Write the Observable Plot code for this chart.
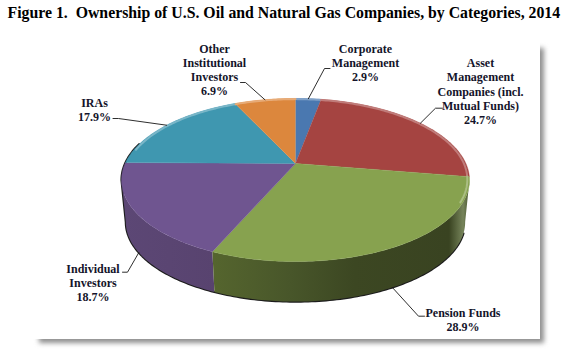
<!DOCTYPE html>
<html>
<head>
<meta charset="utf-8">
<script src="https://cdn.jsdelivr.net/npm/d3@7"></script>
<script src="https://cdn.jsdelivr.net/npm/@observablehq/plot@0.6"></script>
<style>html,body{margin:0;padding:0;background:#fff}svg{display:block}</style>
</head>
<body>
<div id="chart"></div>
<script>
// ---- data ----
const titleText = "Figure 1.  Ownership of U.S. Oil and Natural Gas Companies, by Categories, 2014";
const categories = ["Corporate Management", "Asset Management Companies (incl. Mutual Funds)", "Pension Funds", "Individual Investors", "IRAs", "Other Institutional Investors"];
const shares = [2.9, 24.7, 28.9, 18.7, 17.9, 6.9];
const labelLines = [
  ["Corporate", "Management", "2.9%"],
  ["Asset", "Management", "Companies (incl.", "Mutual Funds)", "24.7%"],
  ["Pension Funds", "28.9%"],
  ["Individual", "Investors", "18.7%"],
  ["IRAs", "17.9%"],
  ["Other", "Institutional", "Investors", "6.9%"]
];
// ---- style ----
const topColors = ["#4a78b0", "#a54441", "#87a24f", "#6f5590", "#3f97b0", "#dc873d"];
// ---- layout: pie view (a perspective view of a disc), label centres and leader bends ----
const view = {cx: 295, cy: 163, A: 170.4, B: 78.2, k: 0.2025, depth: 42.5, shrink: 0.975};
const labelCentres = [[365, 62], [480, 90.5], [462.5, 319], [92.5, 282], [94, 109], [214, 69]];
const leaderBends = [[[324, 68], [329.5, 68]], [[435, 107.7], [442, 107.7]], [[418, 315.7], [424, 315.7]], [[127, 271.7], [122, 271.7]], [[118, 118], [112.5, 118]], [[245, 82], [240, 82]]];

const TAU = Math.PI * 2, DEG = Math.PI / 180;
function project(a, face = "top", r = 1) {
  const u = r * Math.sin(a), v = r * Math.cos(a), d = 1 + view.k * v;
  const X = view.A * u / d, Y = view.B * v / d;
  return face === "top"
    ? {x: view.cx + X, y: view.cy - Y}
    : {x: view.cx + view.shrink * X, y: view.cy + view.depth - view.shrink * Y};
}
function arc(a0, a1, face, r) {
  const n = Math.max(2, Math.ceil(Math.abs(a1 - a0) / DEG));
  return d3.range(n + 1).map(i => project(a0 + (a1 - a0) * i / n, face, r));
}
const arcs = d3.pie().sort(null)(shares);
const slices = categories.map((name, i) => ({name, a0: arcs[i].startAngle, a1: arcs[i].endAngle, mid: (arcs[i].startAngle + arcs[i].endAngle) / 2, i}));

// top face
const topPts = slices.flatMap(s => [{x: view.cx, y: view.cy}, ...arc(s.a0, s.a1, "top")].map(p => ({...p, name: s.name})));
// side wall, between the two widest points of the disc
const wallFrom = Math.acos(-view.k), wallTo = TAU - wallFrom;
const front = slices.filter(s => s.mid > TAU / 4 && s.mid < 3 * TAU / 4);
const sideOf = (s) => {
  const a0 = s === front[0] ? wallFrom : s.a0;
  const a1 = s === front[front.length - 1] ? wallTo : s.a1;
  return [...arc(a0, a1, "top"), ...arc(a1, a0, "bottom")];
};
// rim highlight on the far edge
const rimPts = slices.flatMap(s => arc(s.a0, s.a1, "top", 0.988)
  .map((p, j, all) => ({...p, name: s.name, a: s.a0 + (s.a1 - s.a0) * j / (all.length - 1)}))
  .filter(p => p.a < 118 * DEG || p.a > 280 * DEG));
const tint = d3.scaleOrdinal(categories, topColors.map(c => d3.interpolateRgb(c, "#fff")(0.3)));
// dark outer edge
const edgePts = [...arc(wallFrom + 8 * DEG, wallTo, "bottom"), ...arc(wallTo, 285 * DEG, "top")];
// leaders
const leaderPts = slices.flatMap(s => {
  const isFrontWall = s.name === categories[2] || s.name === categories[3];
  const rim = project(s.mid, isFrontWall ? "bottom" : "top");
  return [rim, ...leaderBends[s.i].map(([x, y]) => ({x, y}))].map(p => ({...p, name: s.name}));
});
const labels = slices.map(s => ({x: labelCentres[s.i][0], y: labelCentres[s.i][1], text: labelLines[s.i].join("\n")}));

const gradients = [
  {id: "sideGreen", x1: 213, x2: 469, stops: [[0, "#55652e"], [0.3, "#48562a"], [0.55, "#3c4722"], [0.92, "#394321"], [0.975, "#76845a"], [1, "#4a5731"]]},
  {id: "sidePurple", x1: 122, x2: 215, stops: [[0, "#5c4775"], [1, "#58436f"]]}
];
const defsMark = () => {
  const defs = d3.create("svg:defs");
  for (const g of gradients) {
    const lg = defs.append("linearGradient").attr("id", g.id).attr("gradientUnits", "userSpaceOnUse")
      .attr("x1", g.x1).attr("x2", g.x2).attr("y1", 0).attr("y2", 0);
    for (const [o, c] of g.stops) lg.append("stop").attr("offset", o).attr("stop-color", c);
  }
  return defs.node();
};

const serif = {fontFamily: "Liberation Serif", fontWeight: "bold"};
const chart = Plot.plot({
  width: 567, height: 353, margin: 0,
  x: {domain: [0, 567], range: [0, 567], axis: null},
  y: {domain: [0, 353], range: [0, 353], axis: null},
  color: {domain: categories, range: topColors},
  style: {background: "#fff"},
  marks: [
    defsMark,
    // card and drop shadow
    Plot.rect([{}], {x1: () => 39, x2: () => 544, y1: () => 48, y2: () => 343, fill: "#8f8f8f", imageFilter: "blur(2.5px)"}),
    Plot.rect([{}], {x1: () => 0, x2: () => 540, y1: () => 0, y2: () => 339, fill: "#fff"}),
    // side wall
    Plot.line(edgePts, {x: "x", y: "y", stroke: "#1c1c1c", strokeWidth: 2.2, imageFilter: "blur(0.6px)"}),
    Plot.line(sideOf(front[1]), {x: "x", y: "y", fill: "url(#sidePurple)", stroke: "none"}),
    Plot.line(sideOf(front[0]), {x: "x", y: "y", fill: "url(#sideGreen)", stroke: "none"}),
    // top face
    Plot.line(topPts, {x: "x", y: "y", z: "name", fill: "name", stroke: "name", strokeWidth: 0.4, imageFilter: "blur(0.3px)"}),
    // far-edge highlight
    Plot.line(rimPts, {x: "x", y: "y", z: "name", stroke: d => tint(d.name), strokeWidth: 2, imageFilter: "blur(0.7px)"}),
    // leaders
    Plot.line(leaderPts, {x: "x", y: "y", z: "name", stroke: "#161616", strokeWidth: 0.9}),
    // labels
    Plot.text(labels, {x: "x", y: "y", text: "text", ...serif, fontSize: 12, lineHeight: 1.17, fill: "#14142a", textAnchor: "middle"}),
    Plot.text([titleText], {x: () => 7, y: () => 12, text: d => d, ...serif, fontSize: 15.8, fill: "#000", textAnchor: "start"})
  ]
});
document.getElementById("chart").append(chart);
</script>
</body>
</html>
